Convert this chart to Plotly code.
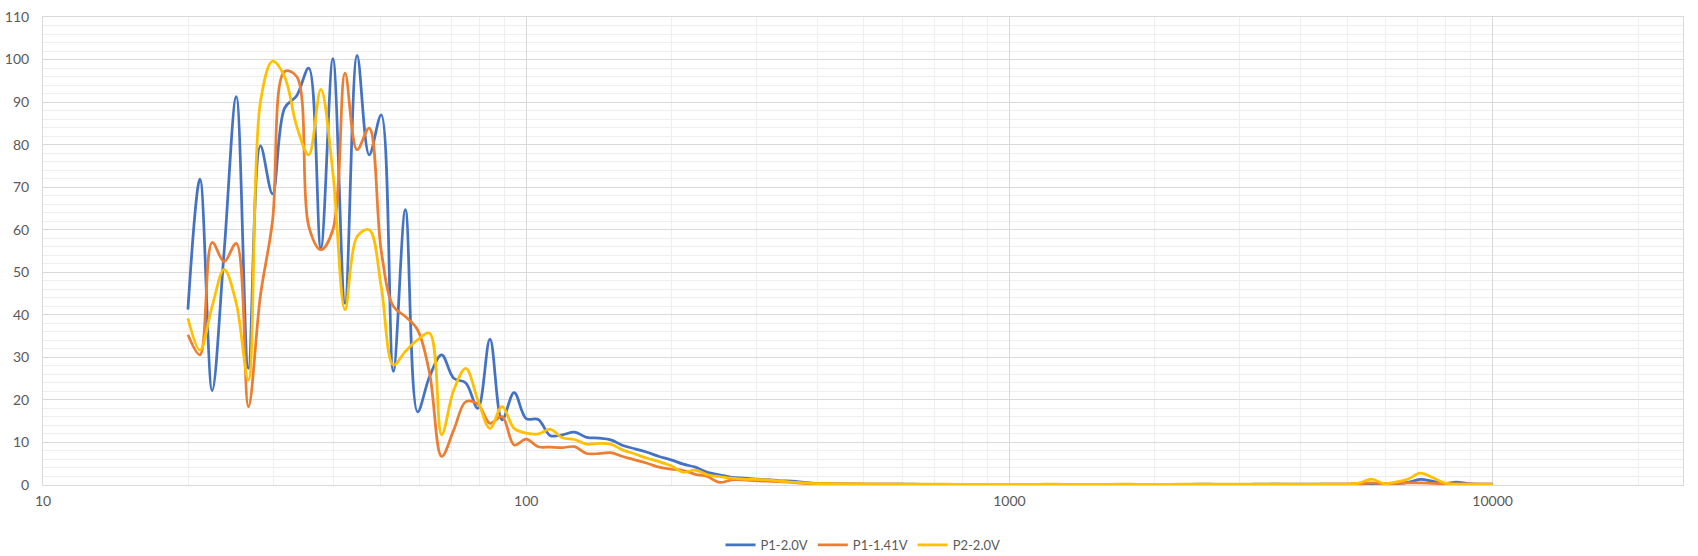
import plotly.graph_objects as go

# 1/12-octave frequency points (Hz)
freq = [19.95, 21.13, 22.39, 23.71, 25.12, 26.61, 28.18, 29.85, 31.62, 33.50,
        35.48, 37.58, 39.81, 42.17, 44.67, 47.32, 50.12, 53.09, 56.23, 59.57,
        63.10, 66.83, 70.79, 74.99, 79.43, 84.14, 89.13, 94.41, 100.0, 105.9,
        112.2, 118.9, 125.9, 133.4, 141.3, 149.6, 158.5, 167.9, 177.8, 188.4,
        199.5, 211.3, 223.9, 237.1, 251.2, 266.1, 281.8, 298.5, 316.2, 335.0,
        354.8, 375.8, 398.1, 421.7, 446.7, 473.2, 501.2, 530.9, 562.3, 595.7,
        631.0, 668.3, 707.9, 749.9, 794.3, 841.4, 891.3, 944.1, 1000, 1059,
        1122, 1189, 1259, 1334, 1413, 1496, 1585, 1679, 1778, 1884,
        1995, 2113, 2239, 2371, 2512, 2661, 2818, 2985, 3162, 3350,
        3548, 3758, 3981, 4217, 4467, 4732, 5012, 5309, 5623, 5957,
        6310, 6683, 7079, 7499, 7943, 8414, 8913, 9441, 10000]

p1_20v = [41.2, 71.9, 22.2, 55.0, 91.3, 27.4, 79.7, 68.4, 88.6, 91.5,
          98.0, 55.7, 100.2, 42.7, 101.0, 77.6, 87.0, 26.7, 64.7, 17.2,
          25.5, 30.6, 25.1, 24.0, 18.0, 34.3, 15.3, 21.7, 15.6, 15.4,
          11.6, 11.8, 12.4, 11.2, 11.0, 10.6, 9.3, 8.5, 7.7, 6.7,
          5.9, 4.9, 4.2, 3.0, 2.4, 1.8, 1.6, 1.4, 1.25, 1.0,
          0.9, 0.6, 0.35, 0.3, 0.28, 0.25, 0.22, 0.2, 0.2, 0.18,
          0.18, 0.17, 0.16, 0.16, 0.15, 0.15, 0.15, 0.14, 0.14, 0.14,
          0.14, 0.15, 0.16, 0.15, 0.14, 0.13, 0.13, 0.14, 0.16, 0.15,
          0.14, 0.14, 0.15, 0.17, 0.18, 0.17, 0.16, 0.16, 0.17, 0.2,
          0.22, 0.2, 0.18, 0.18, 0.2, 0.2, 0.18, 0.2, 0.25, 0.2,
          0.3, 0.6, 1.3, 0.9, 0.3, 0.7, 0.3, 0.2, 0.2]

p1_141v = [35.3, 30.6, 57.0, 52.5, 56.8, 18.4, 44.5, 62.0, 97.2, 96.0,
           60.8, 55.3, 60.0, 96.8, 78.8, 83.9, 55.0, 42.0, 39.6, 36.5,
           26.3, 6.7, 12.9, 19.6, 19.0, 14.5, 16.1, 9.4, 10.8, 9.0,
           8.9, 8.8, 9.0, 7.4, 7.4, 7.6, 6.7, 5.9, 5.1, 4.2,
           3.7, 3.4, 2.5, 2.0, 0.6, 1.2, 1.2, 1.0, 0.9, 0.8,
           0.6, 0.4, 0.3, 0.3, 0.25, 0.22, 0.2, 0.2, 0.18, 0.18,
           0.17, 0.17, 0.16, 0.15, 0.15, 0.15, 0.14, 0.14, 0.14, 0.14,
           0.15, 0.16, 0.16, 0.15, 0.14, 0.14, 0.15, 0.16, 0.16, 0.15,
           0.14, 0.15, 0.16, 0.17, 0.17, 0.16, 0.15, 0.15, 0.16, 0.17,
           0.18, 0.17, 0.16, 0.17, 0.18, 0.2, 0.2, 0.3, 0.5, 0.3,
           0.35, 0.5, 0.5, 0.4, 0.3, 0.25, 0.2, 0.2, 0.2]

p2_20v = [39.2, 31.7, 42.0, 50.7, 42.7, 24.7, 90.0, 99.6, 96.0, 84.3,
          77.6, 93.0, 73.3, 41.2, 58.4, 60.0, 46.6, 28.2, 31.4, 34.1,
          35.7, 11.8, 22.3, 27.4, 20.0, 13.3, 18.4, 13.3, 12.2, 12.0,
          13.1, 11.1, 10.7, 9.6, 9.8, 9.6, 8.2, 7.3, 6.3, 5.5,
          4.5, 3.0, 3.5, 2.4, 2.0, 1.6, 1.4, 1.3, 1.2, 0.9,
          0.7, 0.5, 0.35, 0.3, 0.28, 0.26, 0.24, 0.22, 0.2, 0.2,
          0.2, 0.19, 0.18, 0.18, 0.17, 0.17, 0.17, 0.16, 0.16, 0.16,
          0.17, 0.18, 0.18, 0.17, 0.16, 0.16, 0.17, 0.18, 0.18, 0.17,
          0.16, 0.17, 0.18, 0.19, 0.2, 0.19, 0.18, 0.18, 0.19, 0.2,
          0.2, 0.19, 0.18, 0.19, 0.2, 0.2, 0.2, 0.5, 1.4, 0.3,
          0.7, 1.4, 2.8, 1.8, 0.5, 0.2, 0.2, 0.2, 0.2]

series_names = ["P1-2.0V", "P1-1.41V", "P2-2.0V"]
series_colors = ["#4472C4", "#ED7D31", "#FFC000"]
x_tick_vals = [10, 100, 1000, 10000]
x_tick_text = ["10", "100", "1000", "10000"]

fig = go.Figure()
for name, vals, col in zip(series_names, [p1_20v, p1_141v, p2_20v], series_colors):
    fig.add_trace(go.Scatter(
        x=freq, y=vals, name=name, mode="lines",
        line=dict(color=col, width=2.75, shape="spline", smoothing=1.0),
    ))

minor_x = [m * d for d in x_tick_vals for m in range(2, 10)]
font_col = "#595959"
fig.update_layout(
    width=1698, height=556,
    paper_bgcolor="white", plot_bgcolor="white",
    margin=dict(l=43, r=15, t=17, b=71, autoexpand=False),
    font=dict(family="Lato, 'Open Sans', sans-serif", size=14, color=font_col),
    showlegend=True,
    legend=dict(orientation="h", x=0.5, xanchor="center", y=-0.128, yanchor="middle",
                font=dict(size=13, color=font_col), itemwidth=30, tracegroupgap=0),
)
fig.update_xaxes(
    type="log", range=[1, 4.394],
    tickvals=x_tick_vals, ticktext=x_tick_text,
    showgrid=True, gridcolor="#D9D9D9", gridwidth=1,
    minor=dict(tickvals=minor_x, showgrid=True, gridcolor="#EEEEEE", gridwidth=1, ticks=""),
    showline=True, linecolor="#D9D9D9", linewidth=1, mirror=True,
    ticks="", zeroline=False, ticklabelstandoff=3, automargin=False,
    tickfont=dict(size=14, color=font_col),
)
fig.update_yaxes(
    range=[0, 110], dtick=10, tick0=0,
    showgrid=True, gridcolor="#D9D9D9", gridwidth=1,
    minor=dict(dtick=2, showgrid=True, gridcolor="#EEEEEE", gridwidth=1, ticks=""),
    showline=True, linecolor="#D9D9D9", linewidth=1, mirror=True,
    ticks="", zeroline=False, ticklabelstandoff=10, automargin=False,
    tickfont=dict(size=14, color=font_col),
)

fig.write_html("out.html",
               config={"displayModeBar": False},
               post_script="document.body.style.margin='0';document.body.style.overflow='hidden';")
